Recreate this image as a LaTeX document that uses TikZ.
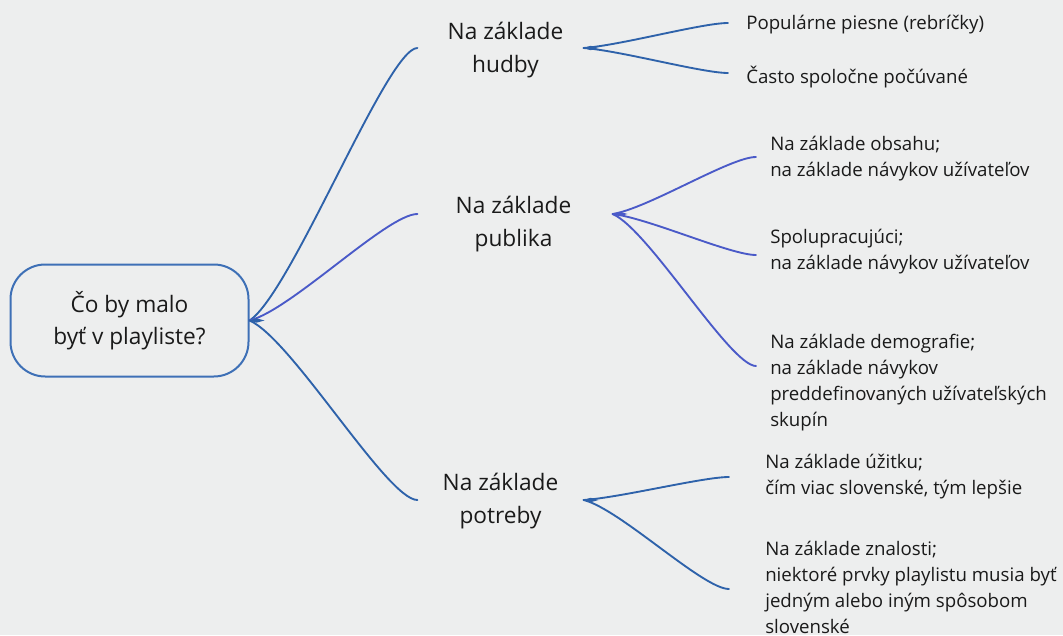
\documentclass[tikz,border=0pt]{standalone}
\usepackage{fontspec}
\setmainfont{Open Sans}
\usetikzlibrary{calc}
\definecolor{bg}{RGB}{237,238,238}
\definecolor{bdark}{RGB}{46,98,170}
\definecolor{bviolet}{RGB}{74,90,200}
\definecolor{rootline}{RGB}{62,112,182}
\definecolor{ink}{RGB}{26,26,26}
\newcommand\branch[3]{\draw[branchline,#1] let \p1=#2, \p2=#3 in (\p1) .. controls ({\x1+0.25*(\x2-\x1)},{\y1+0.1*(\y2-\y1)}) and ({\x2-0.18*(\x2-\x1)},\y2) .. (\p2);}
\newcommand\knot[2]{\fill[#1] #2 -- ++(7,-2.2) -- ++(8,2.2) -- ++(-8,2.2) -- cycle;}
\tikzset{
  mainnode/.style={font=\fontsize{17pt}{24.75pt}\selectfont, align=center, inner sep=0pt, text=ink},
  leaf/.style={font=\fontsize{14pt}{19.5pt}\selectfont, align=left, anchor=west, inner sep=0pt, text=ink},
  rootbox/.style={draw=rootline, line width=1.5pt, rounded corners=26pt, minimum width=178.5pt, minimum height=84pt, align=center, inner sep=0pt, font=\fontsize{17pt}{24pt}\selectfont, text=ink},
  branchline/.style={line width=1.4pt, line cap=round}
}
\begin{document}
\begin{tikzpicture}[x=0.75pt,y=-0.75pt]
\fill[bg] (0,0) rectangle (1063,635);
\useasboundingbox (0,0) rectangle (1063,635);

\node[rootbox] (root) at (129.5,320.5) {Čo by malo\\byť v playliste?};

\node[mainnode] (m1) at (505.5,50) {Na základe\\hudby};
\node[mainnode] (m2) at (513.5,224) {Na základe\\publika};
\node[mainnode] (m3) at (500.5,501) {Na základe\\potreby};

\node[leaf] (l1) at (746,25) {Populárne piesne (rebríčky)};
\node[leaf] (l2) at (746,77) {Často spoločne počúvané};
\node[leaf] (l3) at (770,159) {Na základe obsahu;\\na základe návykov užívateľov};
\node[leaf] (l4) at (770,252) {Spolupracujúci;\\na základe návykov užívateľov};
\node[leaf] (l5) at (770,383) {Na základe demografie;\\na základe návykov\\preddefinovaných užívateľských\\skupín};
\node[leaf] (l6) at (765,477) {Na základe úžitku;\\čím viac slovenské, tým lepšie};
\node[leaf] (l7) at (765,587) {Na základe znalosti;\\niektoré prvky playlistu musia byť\\jedným alebo iným spôsobom\\slovenské};

\branch{bdark}{(root.east)}{($(m1.west)+(-30,-2)$)}
\branch{bviolet}{(root.east)}{($(m2.west)+(-38,-10)$)}
\branch{bdark}{(root.east)}{($(m3.west)+(-25,-1)$)}
\knot{bdark}{(root.east)}

\branch{bdark}{($(m1.east)+(20,-2)$)}{($(l1.west)+(-18,-2)$)}
\branch{bdark}{($(m1.east)+(20,-2)$)}{($(l2.west)+(-18,-4)$)}
\knot{bdark}{($(m1.east)+(20,-2)$)}

\branch{bviolet}{($(m2.east)+(41,-10)$)}{($(l3.west)+(-14,-2)$)}
\branch{bviolet}{($(m2.east)+(41,-10)$)}{($(l4.west)+(-14,3)$)}
\branch{bviolet}{($(m2.east)+(41,-10)$)}{($(l5.west)+(-14,-17)$)}
\knot{bviolet}{($(m2.east)+(41,-10)$)}

\branch{bdark}{($(m3.east)+(25,-1)$)}{($(l6.west)+(-36,0)$)}
\branch{bdark}{($(m3.east)+(25,-1)$)}{($(l7.west)+(-36,2)$)}
\knot{bdark}{($(m3.east)+(25,-1)$)}
\end{tikzpicture}
\end{document}
